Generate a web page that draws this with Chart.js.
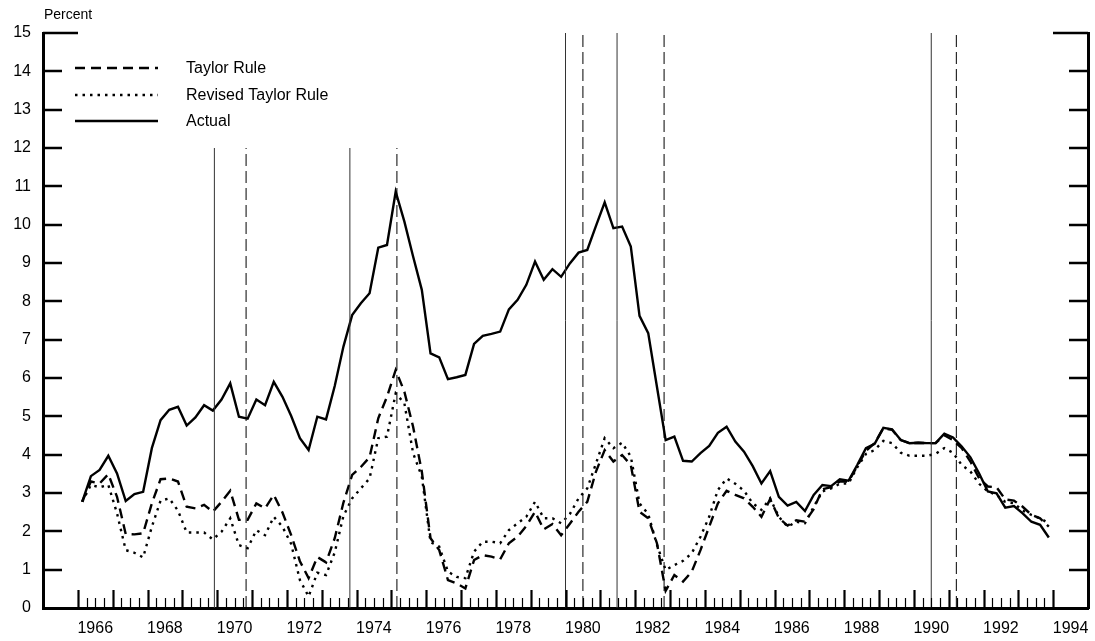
<!DOCTYPE html>
<html>
<head>
<meta charset="utf-8">
<script src="https://cdn.jsdelivr.net/npm/chart.js@4.4.1/dist/chart.umd.min.js"></script>
<style>
  html, body { margin: 0; padding: 0; background: #fff; }
  #chart { display: block; }
</style>
</head>
<body>
<canvas id="chart" width="1095" height="641"></canvas>
<script>
// quarterly, 1966Q1 .. 1993Q4
const START_YEAR = 1966;

const actual = [
  2.77, 3.44, 3.60, 3.97, 3.51, 2.79, 2.97, 3.03, 4.17, 4.90, 5.17, 5.25, 4.76, 4.97, 5.29, 5.15,
  5.44, 5.86, 4.99, 4.94, 5.44, 5.29, 5.90, 5.51, 5.01, 4.43, 4.12, 4.99, 4.92, 5.79, 6.82, 7.64,
  7.95, 8.21, 9.40, 9.47, 10.86, 10.08, 9.17, 8.30, 6.64, 6.54, 5.97, 6.02, 6.08, 6.89, 7.10, 7.15,
  7.21, 7.79, 8.04, 8.43, 9.04, 8.56, 8.84, 8.64, 8.99, 9.27, 9.34, 9.97, 10.58, 9.91, 9.95, 9.43,
  7.62, 7.17, 5.77, 4.38, 4.47, 3.84, 3.82, 4.04, 4.23, 4.57, 4.73, 4.34, 4.08, 3.70, 3.25, 3.57,
  2.90, 2.67, 2.77, 2.53, 2.95, 3.21, 3.18, 3.36, 3.32, 3.73, 4.17, 4.28, 4.70, 4.66, 4.38, 4.30,
  4.31, 4.30, 4.30, 4.55, 4.45, 4.21, 3.93, 3.51, 3.04, 2.99, 2.62, 2.66, 2.47, 2.25, 2.17, 1.84
];

const taylorRule = [
  2.77, 3.30, 3.25, 3.49, 2.90, 1.93, 1.92, 1.95, 2.73, 3.36, 3.38, 3.30, 2.64, 2.60, 2.69, 2.51,
  2.77, 3.06, 2.30, 2.30, 2.73, 2.60, 2.95, 2.49, 1.90, 1.22, 0.78, 1.33, 1.19, 1.82, 2.75, 3.47,
  3.68, 3.93, 4.95, 5.51, 6.21, 5.64, 4.73, 3.56, 1.82, 1.51, 0.73, 0.64, 0.51, 1.25, 1.38, 1.34,
  1.27, 1.69, 1.86, 2.14, 2.51, 2.05, 2.19, 1.90, 2.20, 2.51, 2.77, 3.56, 4.12, 3.82, 3.99, 3.73,
  2.51, 2.34, 1.69, 0.45, 0.86, 0.69, 0.95, 1.51, 2.12, 2.73, 3.06, 2.95, 2.86, 2.64, 2.38, 2.84,
  2.35, 2.15, 2.29, 2.25, 2.58, 3.10, 3.15, 3.30, 3.30, 3.70, 4.10, 4.30, 4.69, 4.65, 4.38, 4.30,
  4.31, 4.30, 4.30, 4.51, 4.38, 4.17, 3.82, 3.38, 3.17, 3.15, 2.83, 2.80, 2.64, 2.43, 2.34, 2.12
];

const revisedTaylorRule = [
  2.77, 3.21, 3.15, 3.21, 2.47, 1.51, 1.44, 1.32, 2.12, 2.80, 2.86, 2.54, 1.97, 1.97, 1.97, 1.79,
  1.99, 2.34, 1.64, 1.56, 2.03, 1.90, 2.38, 2.12, 1.67, 0.73, 0.30, 0.92, 0.86, 1.45, 2.40, 2.86,
  3.12, 3.38, 4.43, 4.47, 5.60, 5.34, 4.04, 3.43, 1.72, 1.60, 0.95, 0.81, 0.78, 1.47, 1.73, 1.73,
  1.69, 2.03, 2.21, 2.38, 2.77, 2.34, 2.34, 2.21, 2.45, 2.86, 3.12, 3.77, 4.43, 4.17, 4.31, 3.95,
  2.73, 2.45, 1.65, 0.99, 1.12, 1.23, 1.43, 1.86, 2.38, 3.08, 3.38, 3.24, 3.06, 2.73, 2.56, 2.86,
  2.38, 2.12, 2.25, 2.21, 2.64, 3.04, 3.12, 3.24, 3.25, 3.67, 4.02, 4.12, 4.36, 4.30, 4.05, 3.97,
  3.97, 3.97, 4.02, 4.17, 4.05, 3.73, 3.56, 3.24, 3.04, 2.95, 2.77, 2.73, 2.54, 2.43, 2.34, 2.21
];

// business cycle peaks (solid) and troughs (dashed), and how high each line goes
const peaks = [1969.92, 1973.81, 1980.0, 1981.48, 1990.5];
const troughs = [1970.83, 1975.16, 1980.5, 1982.83, 1991.22];
const peakTops = [12, 12, 15, 15, 15];
const troughTops = [12, 12, 15, 15, 15];

const xLabelYears = [1966, 1968, 1970, 1972, 1974, 1976, 1978, 1980, 1982, 1984, 1986, 1988, 1990, 1992, 1994];
const FONT = "'Liberation Sans', Arial, sans-serif";

function toPoints(values) {
  return values.map((v, i) => ({ x: START_YEAR + (i + 0.5) / 4, y: v }));
}

function eventLines(dates, tops) {
  const pts = [];
  dates.forEach((d, k) => {
    pts.push({ x: d, y: 0 }, { x: d, y: tops[k] }, { x: d, y: null });
  });
  return pts;
}

const series = [
  { label: "Taylor Rule", data: toPoints(taylorRule), borderDash: [10, 6] },
  { label: "Revised Taylor Rule", data: toPoints(revisedTaylorRule), borderDash: [2.5, 5] },
  { label: "Actual", data: toPoints(actual), borderDash: [] },
];

const datasets = [
  {
    data: eventLines(peaks, peakTops),
    borderColor: "#333",
    borderWidth: 1,
    pointRadius: 0,
    spanGaps: false,
  },
  {
    data: eventLines(troughs, troughTops),
    borderColor: "#000",
    borderWidth: 1,
    borderDash: [12, 5],
    pointRadius: 0,
    spanGaps: false,
  },
  ...series.map((s) => ({
    label: s.label,
    data: s.data,
    borderColor: "#000",
    borderWidth: 2.4,
    borderDash: s.borderDash,
    pointRadius: 0,
    tension: 0,
    fill: false,
  })),
];

// axis ticks, "Percent" title and the line-sample legend
const decorations = {
  id: "decorations",
  afterDraw(chart) {
    const { ctx, chartArea: area } = chart;
    const x = chart.scales.x;
    const y = chart.scales.y;
    ctx.save();
    ctx.strokeStyle = "#000";
    ctx.lineCap = "butt";

    // quarter ticks along the bottom
    for (let yr = 1966; yr <= 1994; yr++) {
      for (let q = 0; q < 4; q++) {
        if (yr === 1994 && q > 0) break;
        const px = Math.round(x.getPixelForValue(yr + q / 4)) + 0.5;
        const len = q === 0 ? 18 : 10;
        ctx.lineWidth = q === 0 ? 2.2 : 1.2;
        ctx.beginPath();
        ctx.moveTo(px, area.bottom);
        ctx.lineTo(px, area.bottom - len);
        ctx.stroke();
      }
    }

    // percent ticks on both sides
    ctx.lineWidth = 2.5;
    for (let v = 1; v <= 15; v++) {
      const py = Math.round(y.getPixelForValue(v));
      const len = v === 15 ? 35 : 19;
      ctx.beginPath();
      ctx.moveTo(area.left, py);
      ctx.lineTo(area.left + len, py);
      ctx.moveTo(area.right, py);
      ctx.lineTo(area.right - len, py);
      ctx.stroke();
    }

    ctx.fillStyle = "#000";
    ctx.font = "14px " + FONT;
    ctx.textBaseline = "middle";
    ctx.textAlign = "left";
    ctx.fillText("Percent", 44, 15);

    // legend
    ctx.font = "16px " + FONT;
    const rows = [68, 95, 121];
    series.forEach((s, i) => {
      ctx.lineWidth = 2.4;
      ctx.setLineDash(s.borderDash);
      ctx.beginPath();
      ctx.moveTo(75, rows[i]);
      ctx.lineTo(158, rows[i]);
      ctx.stroke();
      ctx.setLineDash([]);
      ctx.fillText(s.label, 186, rows[i] + 1);
    });
    ctx.restore();
  },
};

new Chart(document.getElementById("chart"), {
  type: "line",
  data: { datasets },
  plugins: [decorations],
  options: {
    responsive: false,
    animation: false,
    layout: { padding: { top: 33, left: 0, right: 0, bottom: 0 } },
    plugins: {
      legend: { display: false },
      tooltip: { enabled: false },
    },
    scales: {
      x: {
        type: "linear",
        min: 1965,
        max: 1995,
        grid: { display: false, drawTicks: false },
        border: { display: true, color: "#000", width: 3 },
        afterBuildTicks: (scale) => {
          scale.ticks = xLabelYears.map((yr) => ({ value: yr + 0.5 }));
        },
        afterFit: (scale) => {
          scale.height = 33;
          scale.paddingLeft = 0;
          scale.paddingRight = 0;
        },
        ticks: {
          autoSkip: false,
          maxRotation: 0,
          padding: 11,
          color: "#000",
          font: { family: FONT, size: 16 },
          callback: (v) => String(Math.floor(v)),
        },
      },
      y: {
        min: 0,
        max: 15,
        grid: { display: false, drawTicks: false },
        border: { display: true, color: "#000", width: 3 },
        afterFit: (scale) => { scale.width = 43; },
        ticks: {
          stepSize: 1,
          padding: 12,
          color: "#000",
          font: { family: FONT, size: 16 },
        },
      },
      y2: {
        display: true,
        position: "right",
        min: 0,
        max: 15,
        grid: { display: false, drawTicks: false },
        border: { display: true, color: "#000", width: 3 },
        ticks: { display: false },
        afterFit: (scale) => { scale.width = 7; },
      },
    },
  },
});
</script>
</body>
</html>
